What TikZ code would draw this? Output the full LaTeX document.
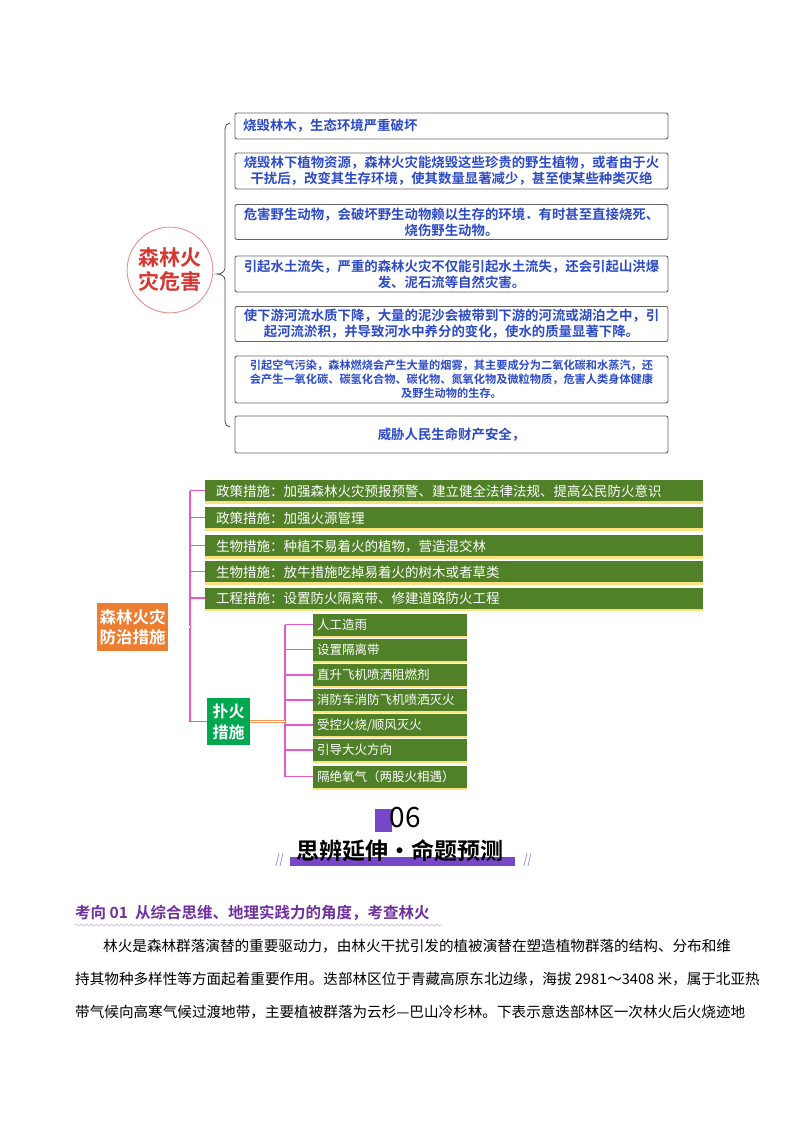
\documentclass[tikz,border=0pt]{standalone}
\usepackage{fontspec}
\setmainfont{Noto Sans CJK SC}
\newfontfamily\cjkb{Noto Sans CJK SC Bold}
\usetikzlibrary{decorations.pathmorphing,calc}
\definecolor{tblue}{RGB}{45,75,200}
\definecolor{tred}{RGB}{215,55,50}
\definecolor{gbox}{RGB}{80,128,40}
\definecolor{gdark}{RGB}{0,168,80}
\definecolor{ob}{RGB}{237,125,49}
\definecolor{pk}{RGB}{230,90,200}
\definecolor{pu}{RGB}{120,70,200}
\definecolor{hpu}{RGB}{112,48,160}
\tikzset{
 hbox/.style={draw=black!60,rounded corners=2pt,line width=0.9pt,text=tblue,font=\cjkb\fontsize{13.4}{16}\selectfont,align=center,inner sep=0pt},
 gb/.style={fill=gbox,text=white,anchor=west,font=\fontsize{13.5}{15}\selectfont,inner sep=0pt,text depth=0pt,align=left},
 sb/.style={fill=gbox,text=white,font=\fontsize{12.5}{14}\selectfont,inner sep=0pt,align=left},
 pline/.style={pk,line width=1.2pt},
 para/.style={anchor=west,font=\fontsize{14.6}{16}\selectfont,inner sep=0pt}
}
\begin{document}
\begin{tikzpicture}[x=1pt,y=-1pt]
\useasboundingbox[fill=white] (0,0) rectangle (800,1132);
% top
\node[circle,draw=tred!60,line width=0.8pt,minimum size=80pt,text=tred,font=\cjkb\fontsize{21}{24}\selectfont,align=center] (c) at (170,270) {森林火\\灾危害};
\def\hb#1#2#3#4{\node[hbox,minimum width=433pt,minimum height=#3pt,text width=425pt] (#1) at (451.5,#2) {#4};}
\hb{b1}{126}{26}{}
\node[anchor=west,text=tblue,font=\cjkb\fontsize{13.4}{16}\selectfont,inner sep=0pt] (t1) at (243,126) {烧毁林木，生态环境严重破坏};
\hb{b2}{171}{36}{烧毁林下植物资源，森林火灾能烧毁这些珍贵的野生植物，或者由于火\\干扰后，改变其生存环境，使其数量显著减少，甚至使某些种类灭绝}
\hb{b3}{222}{35}{危害野生动物，会破坏野生动物赖以生存的环境．有时甚至直接烧死、\\烧伤野生动物。}
\hb{b4}{274}{36}{引起水土流失，严重的森林火灾不仅能引起水土流失，还会引起山洪爆\\发、泥石流等自然灾害。}
\hb{b5}{324}{35}{使下游河流水质下降，大量的泥沙会被带到下游的河流或湖泊之中，引\\起河流淤积，并导致河水中养分的变化，使水的质量显著下降。}
\node[hbox,minimum width=433pt,minimum height=47pt,text width=427pt,font=\cjkb\fontsize{11.2}{14}\selectfont] (b6) at (451.5,379.5) {引起空气污染，森林燃烧会产生大量的烟雾，其主要成分为二氧化碳和水蒸汽，还\\会产生一氧化碳、碳氢化合物、碳化物、氮氧化物及微粒物质，危害人类身体健康\\及野生动物的生存。};
\node[hbox,minimum width=433pt,minimum height=37pt,text width=425pt] (b7) at (451.5,434.5) {威胁人民生命财产安全，};
\coordinate (bt) at (230,123);
\coordinate (bb) at (230,427);
\draw[black!70,line width=0.8pt] (bt) to[out=180,in=90] ($(bt)+(-5,6)$) -- (225,268) to[out=-90,in=0] (217,274) to[out=0,in=90] (225,280) -- ($(bb)+(-5,-6)$) to[out=-90,in=180] (bb);
% middle
\foreach \n/\y/\t in {g1/490.5/{政策措施：加强森林火灾预报预警、建立健全法律法规、提高公民防火意识},g2/517.5/{政策措施：加强火源管理},g3/545.5/{生物措施：种植不易着火的植物，营造混交林},g4/571.5/{生物措施：放牛措施吃掉易着火的树木或者草类},g5/598/{工程措施：设置防火隔离带、修建道路防火工程}}{
 \fill[yellow!60!orange!50] (205,\y+10) rectangle (703,\y+13);
 \node[gb,minimum width=498pt,minimum height=21pt,text width=488pt] (\n) at (205,\y) {\hspace*{6pt}\t};
}
\node[fill=ob,text=white,font=\cjkb\fontsize{16.5}{20}\selectfont,minimum width=71pt,minimum height=48pt,align=center,inner sep=0pt] (o) at (132.5,627) {森林火灾\\防治措施};
\node[fill=gdark,text=white,font=\cjkb\fontsize{16}{21}\selectfont,minimum width=43pt,minimum height=47pt,align=center,inner sep=0pt] (p) at (228.5,721.5) {扑火\\措施};
\coordinate (v1) at (190,490.5);
\coordinate (v2) at (190,721.5);
\draw[pline] (v1) -- (v2);
\foreach \n in {g1,g2,g3,g4,g5} \draw[pline] (\n.west -| v1) -- (\n.west);
\draw[pline] (v2) -- (p.west);
\draw[ob!80,line width=0.6pt,double,double distance=1.5pt] (o.east) -- (o.east -| v1);
\foreach \n/\y/\t in {s1/624.5/{人工造雨},s2/649.5/{设置隔离带},s3/675/{直升飞机喷洒阻燃剂},s4/700/{消防车消防飞机喷洒灭火},s5/725/{受控火烧{/}顺风灭火},s6/750/{引导大火方向},s7/776.5/{隔绝氧气（两股火相遇）}}{
 \fill[yellow!60!orange!50] (313,\y+10) rectangle (467,\y+13);
 \node[sb,minimum width=154pt,minimum height=22pt,text width=146pt] (\n) at (390,\y) {\t};
}
\coordinate (u1) at (285,624.5);
\coordinate (u2) at (285,776.5);
\draw[pline] (u1) -- (u2);
\foreach \n in {s1,s2,s3,s4,s5,s6,s7} \draw[pline] (\n.west -| u1) -- (\n.west);
\draw[ob!80,line width=0.6pt,double,double distance=1.5pt] (p.east) -- (p.east -| u1);
% bottom
\fill[pu] (375,809) rectangle (392,832);
\node[font=\fontsize{28}{30}\selectfont,inner sep=0pt] (n06) at (405,818) {06};
\fill[pu] (290,857) rectangle (515,866);
\node[font=\cjkb\fontsize{23}{26}\selectfont,inner sep=0pt] (ttl) at (400,851) {思辨延伸·命题预测};
\draw[pu!60,line width=0.8pt] (276,866)--(279,853) (280,866)--(283,853) (524,866)--(527,853) (528,866)--(531,853);
\node[anchor=west,text=hpu,font=\cjkb\fontsize{15.5}{18}\selectfont,inner sep=0pt] (h) at (75,913) {考向 01\ \ 从综合思维、地理实践力的角度，考查林火};
\draw[pu!40,line width=0.6pt,decorate,decoration={snake,amplitude=1pt,segment length=5pt}] (75,925) -- (442,925);
\node[para] (p1) at (103,946) {林火是森林群落演替的重要驱动力，由林火干扰引发的植被演替在塑造植物群落的结构、分布和维};
\node[para] (p2) at (75,979) {持其物种多样性等方面起着重要作用。迭部林区位于青藏高原东北边缘，海拔 2981～3408 米，属于北亚热};
\node[para] (p3) at (75,1012) {带气候向高寒气候过渡地带，主要植被群落为云杉—巴山冷杉林。下表示意迭部林区一次林火后火烧迹地};
\end{tikzpicture}
\end{document}
